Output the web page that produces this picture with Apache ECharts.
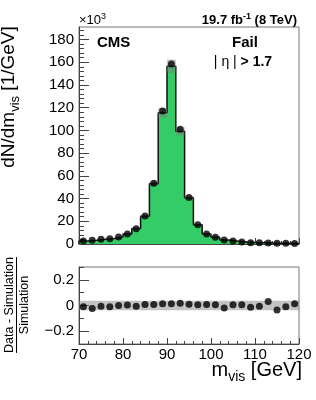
<!DOCTYPE html>
<html>
<head>
<meta charset="utf-8">
<script src="https://cdn.jsdelivr.net/npm/echarts@6/dist/echarts.min.js"></script>
<style>
html,body{margin:0;padding:0;background:#fff;}
#chart{width:316px;height:400px;}
</style>
</head>
<body>
<div id="chart"></div>
<script>
// ---- data ----
const binEdges = [70,72,74,76,78,80,82,84,86,88,90,92,94,96,98,100,102,104,106,108,110,112,114,116,118,120];
// data, in units of 10^3 events / GeV
const dataValues = [2.6,3.2,4.1,4.7,6.2,8.8,13.5,24.7,53.5,117,158.5,101,41,17,8.8,5.9,3.5,2.6,1.8,1.2,1.0,0.8,0.7,0.6,0.5];
// simulation histogram, in units of 10^3 events / GeV
const simValues = [2.63,3.27,4.12,4.75,6.2,8.77,13.57,24.5,53.1,115.5,156.5,99.2,40.6,16.9,8.73,5.87,3.57,2.59,1.79,1.22,1.0,0.78,0.73,0.61,0.49];
// (data - simulation) / simulation
const ratioValues = [-0.010,-0.023,-0.005,-0.010,0.000,0.003,-0.005,0.008,0.008,0.013,0.013,0.018,0.010,0.005,0.008,0.005,-0.020,0.005,0.005,-0.013,-0.005,0.031,-0.036,-0.010,0.013];
// relative simulation uncertainty (grey band)
const simRelUnc = [0.037,0.037,0.037,0.037,0.037,0.037,0.037,0.037,0.037,0.037,0.037,0.037,0.037,0.037,0.037,0.037,0.037,0.037,0.037,0.037,0.037,0.037,0.037,0.037,0.037];
const yTopTicks = [0,20,40,60,80,100,120,140,160,180];
const ratioTickLabels = [-0.2,0,0.2];

const FONT = '"Liberation Sans", Arial, Helvetica, sans-serif';
const nBins = dataValues.length;
const centers = dataValues.map((v,i)=>(binEdges[i]+binEdges[i+1])/2);

const stepData = [[binEdges[0],0]];
for (let i=0;i<nBins;i++) stepData.push([binEdges[i], simValues[i]]);
stepData.push([binEdges[nBins], simValues[nBins-1]]);
stepData.push([binEdges[nBins], 0]);

const bandTop = simValues.map((s,i)=>[binEdges[i], binEdges[i+1], s*(1-simRelUnc[i]), s*(1+simRelUnc[i])]);
const bandRatio = simRelUnc.map((u,i)=>[binEdges[i], binEdges[i+1], -u, u]);

// text measuring helper
const mctx = document.createElement('canvas').getContext('2d');
function fontStr(p){ return (p.bold?'bold ':'') + p.size + 'px ' + FONT; }
function richLine(pieces, x, y, align, rotation, extra){
  // x,y = anchor at baseline
  let widths = pieces.map(p=>{ mctx.font = fontStr(p); return mctx.measureText(p.text).width; });
  let total = widths.reduce((a,b)=>a+b,0);
  let start = align==='center' ? -total/2 : (align==='right' ? -total : 0);
  let children = [];
  let cx = start;
  pieces.forEach((p,i)=>{
    children.push({type:'text', x:cx, y:(p.dy||0) - 0.36*p.size,
      style:{text:p.text, font:fontStr(p), fill:'#000', align:'left', verticalAlign:'middle'}});
    cx += widths[i];
  });
  if (extra) extra(children, start, total);
  return {type:'group', x:x, y:y, rotation:rotation||0, children:children, silent:true};
}

const graphics = [
  richLine([{text:'\u00d710',size:13},{text:'3',size:9,dy:-5}], 79, 25, 'left'),
  richLine([{text:'CMS',size:15,bold:true}], 97, 48, 'left'),
  richLine([{text:'19.7 fb',size:13,bold:true},{text:'-1',size:9,bold:true,dy:-5},{text:' (8 TeV)',size:13,bold:true}], 297, 25, 'right'),
  richLine([{text:'Fail',size:15,bold:true}], 245, 48, 'center'),
  richLine([{text:'| \u03b7 | ',size:14},{text:'> 1.7',size:14,bold:true}], 243, 67, 'center'),
  richLine([{text:'dN/dm',size:19},{text:'vis',size:13,dy:4},{text:' [1/GeV]',size:19}], 16, 97, 'center', Math.PI/2),
  richLine([{text:'m',size:20},{text:'vis',size:14,dy:4},{text:' [GeV]',size:20}], 302, 378, 'right'),
  richLine([{text:'Data - Simulation',size:12.5}], 14, 305, 'center', Math.PI/2, function(ch,start,total){
    ch.push({type:'line', shape:{x1:start,y1:2.5,x2:start+total,y2:2.5}, style:{stroke:'#000',lineWidth:1}});
  }),
  richLine([{text:'Simulation',size:12.5}], 29, 305, 'center', Math.PI/2)
];

const axisLineStyle = {color:'#444', width:1};
const baseX = {
  type:'value', min:70, max:120, interval:10,
  axisLine:{show:true, onZero:false, lineStyle:axisLineStyle},
  axisTick:{show:true, inside:true, length:6, lineStyle:axisLineStyle},
  minorTick:{show:true, splitNumber:5, length:3, lineStyle:axisLineStyle},
  splitLine:{show:false}
};

const option = {
  animation:false,
  backgroundColor:'#fff',
  grid:[
    {left:79, right:17, top:27, height:217, show:true, borderColor:'#777', borderWidth:1},
    {left:79, right:17, top:267, height:77, show:true, borderColor:'#777', borderWidth:1}
  ],
  xAxis:[
    Object.assign({}, baseX, {gridIndex:0, axisLabel:{show:false}}),
    Object.assign({}, baseX, {gridIndex:1, axisLabel:{show:true, margin:3, fontSize:15, color:'#000', fontFamily:FONT}})
  ],
  yAxis:[
    {type:'value', gridIndex:0, min:0, max:191, interval:20,
     axisLine:{show:true, onZero:false, lineStyle:axisLineStyle},
     axisTick:{show:true, inside:true, length:10, lineStyle:axisLineStyle, customValues:yTopTicks},
     minorTick:{show:true, splitNumber:5, length:5, lineStyle:axisLineStyle},
     axisLabel:{show:true, margin:5, fontSize:15, color:'#000', fontFamily:FONT, customValues:yTopTicks},
     splitLine:{show:false}},
    {type:'value', gridIndex:1, min:-0.3, max:0.3, interval:0.1,
     axisLine:{show:true, onZero:false, lineStyle:axisLineStyle},
     axisTick:{show:true, inside:true, length:5, lineStyle:axisLineStyle},
     axisLabel:{show:true, margin:5, fontSize:15, color:'#000', fontFamily:FONT, customValues:ratioTickLabels,
       formatter:function(v){ return v===0 ? '0' : (v<0 ? '\u2212' : '') + Math.abs(v).toFixed(1); }},
     splitLine:{show:false}},
    {type:'value', gridIndex:1, min:-0.3, max:0.3, position:'left',
     axisLine:{show:false},
     axisTick:{show:true, inside:true, length:10, lineStyle:axisLineStyle, customValues:ratioTickLabels},
     axisLabel:{show:false}, splitLine:{show:false}}
  ],
  graphic:graphics,
  series:[
    {type:'line', xAxisIndex:0, yAxisIndex:0, data:stepData, step:'end', symbol:'none',
     lineStyle:{color:'#111', width:1.5}, areaStyle:{color:'#33cc66', opacity:1}, z:1},
    {type:'custom', xAxisIndex:0, yAxisIndex:0, data:bandTop, z:2, clip:true,
     encode:{x:[0,1], y:[2,3]},
     renderItem:function(params, api){
       const p1 = api.coord([api.value(0), api.value(3)]);
       const p2 = api.coord([api.value(1), api.value(2)]);
       return {type:'rect', shape:{x:p1[0], y:p1[1], width:p2[0]-p1[0], height:p2[1]-p1[1]},
               style:{fill:'rgba(120,120,120,0.45)'}};
     }},
    {type:'scatter', xAxisIndex:0, yAxisIndex:0, data:centers.map((c,i)=>[c, dataValues[i]]),
     symbol:'circle', symbolSize:7, itemStyle:{color:'#000'}, z:3},
    {type:'custom', xAxisIndex:1, yAxisIndex:1, data:bandRatio, z:1, clip:true,
     encode:{x:[0,1], y:[2,3]},
     renderItem:function(params, api){
       const p1 = api.coord([api.value(0), api.value(3)]);
       const p2 = api.coord([api.value(1), api.value(2)]);
       return {type:'rect', shape:{x:p1[0], y:p1[1], width:p2[0]-p1[0], height:p2[1]-p1[1]},
               style:{fill:'rgba(120,120,120,0.45)'}};
     }},
    {type:'scatter', xAxisIndex:1, yAxisIndex:1, data:centers.map((c,i)=>[c, ratioValues[i]]),
     symbol:'circle', symbolSize:7, itemStyle:{color:'#000'}, z:3}
  ]
};

const chart = echarts.init(document.getElementById('chart'), null, {renderer:'canvas'});
chart.setOption(option);
</script>
</body>
</html>
